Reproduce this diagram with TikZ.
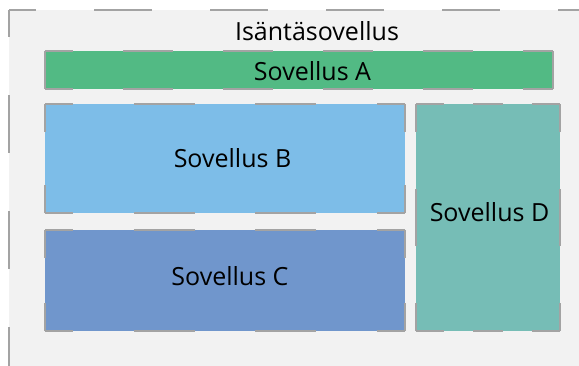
\documentclass[tikz,border=0pt]{standalone}
\usepackage{fontspec}
\setmainfont{Open Sans}
\definecolor{hostbg}{HTML}{F2F2F2}
\definecolor{edgegray}{HTML}{A3A3A3}
\definecolor{appA}{HTML}{52BA84}
\definecolor{appB}{HTML}{7DBDE8}
\definecolor{appC}{HTML}{7096CC}
\definecolor{appD}{HTML}{76BDB6}
% dashed border drawn edge by edge so that every corner carries a dash
% #1 node, #2/#3 dash length and phase on horizontal edges, #4/#5 on vertical edges
\newcommand\panelborder[5]{%
  \draw[rim, dash pattern=on #2pt off #2pt, dash phase=#3pt] (#1.north west) -- (#1.north east);
  \draw[rim, dash pattern=on #2pt off #2pt, dash phase=#3pt] (#1.south west) -- (#1.south east);
  \draw[rim, dash pattern=on #4pt off #4pt, dash phase=#5pt] (#1.north west) -- (#1.south west);
  \draw[rim, dash pattern=on #4pt off #4pt, dash phase=#5pt] (#1.north east) -- (#1.south east);
}
\begin{document}
\begin{tikzpicture}[x=1pt, y=-1pt,
  rim/.style={draw=edgegray, line width=1.5pt},
  panel/.style={fill=#1, draw=none, inner sep=0pt, outer sep=0pt},
  lbl/.style={font=\fontsize{25}{28}\selectfont, text=black, inner sep=0pt}]
  \useasboundingbox (0,0) rectangle (579,365);
  \fill[white] (0,0) rectangle (579,365);

  % host application area, running past the right and bottom edges
  \node[panel=hostbg, minimum width=600pt, minimum height=380pt, anchor=north west] (host) at (9,10) {};
  \draw[rim, dash pattern=on 58pt off 58pt, dash phase=31pt] (host.north west) -- (host.north east);
  \draw[rim, dash pattern=on 58pt off 58pt, dash phase=31pt] (host.north west) -- (host.south west);
  \node[lbl] (title) at (317,31) {Isäntäsovellus};

  % embedded applications
  \node[panel=appA, minimum width=508pt, minimum height=38pt] (A) at (299,70) {};
  \draw[rim, dash pattern=on 50pt off 50pt, dash phase=22pt] (A.north west) -- (A.north east);
  \draw[rim, dash pattern=on 50pt off 50pt, dash phase=22pt] (A.south west) -- (A.south east);
  \draw[rim] (A.north west) -- (A.south west);
  \draw[rim] (A.north east) -- (A.south east);

  \node[panel=appB, minimum width=360pt, minimum height=109pt] (B) at (225,158.5) {};
  \panelborder{B}{60.8}{32.8}{53}{25}

  \node[panel=appC, minimum width=360pt, minimum height=101pt] (C) at (225,280.5) {};
  \panelborder{C}{60.8}{32.8}{45}{17}

  \node[panel=appD, minimum width=144pt, minimum height=227pt] (D) at (488,217.5) {};
  \panelborder{D}{29.3}{1.3}{57}{29}

  \node[lbl] (tA) at (312.5,71) {Sovellus A};
  \node[lbl] (tB) at (232.5,158) {Sovellus B};
  \node[lbl] (tC) at (230,276) {Sovellus C};
  \node[lbl] (tD) at (489.5,212) {Sovellus D};
\end{tikzpicture}
\end{document}
